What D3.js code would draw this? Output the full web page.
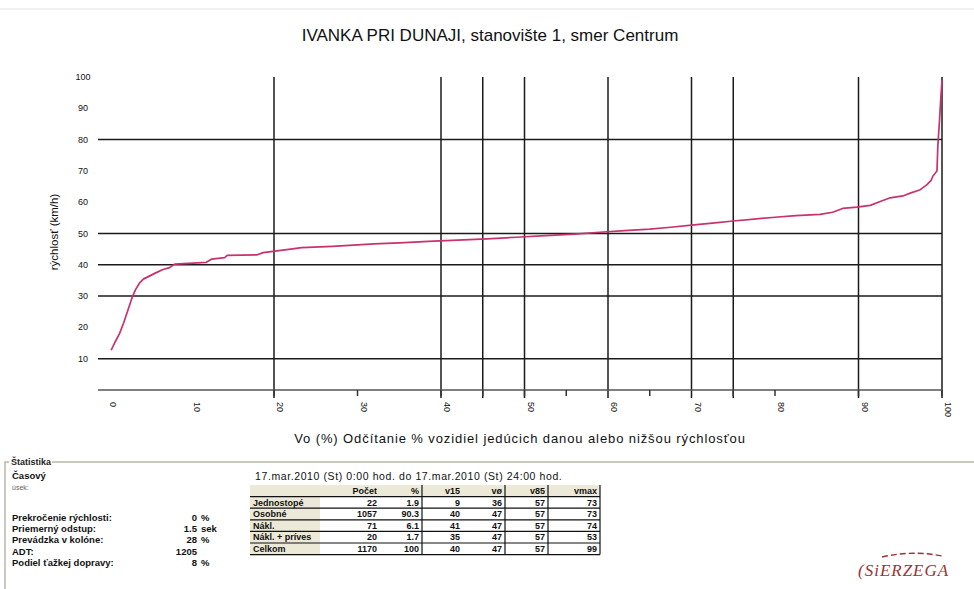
<!DOCTYPE html>
<html>
<head>
<meta charset="utf-8">
<script src="https://cdn.jsdelivr.net/npm/d3@7"></script>
<style>
  html, body { margin: 0; padding: 0; background: #fff; }
  svg { display: block; font-family: "Liberation Sans", Arial, sans-serif; }
</style>
</head>
<body>
<svg id="chart" width="974" height="589"></svg>
<script>
// Cumulative speed distribution: share of vehicles (%) vs. speed (km/h)
const percentVehicles = [0.5, 1.0, 1.5, 2.0, 2.5, 3.0, 3.4, 3.9, 4.4, 5.0, 5.9, 6.7, 7.5, 8.1, 11.9, 12.5, 14.1, 14.4, 18.0, 18.7, 22.0, 23.3, 27.0, 29.5, 32.0, 35.0, 38.5, 42.0, 45.5, 49.0, 52.5, 56.0, 59.0, 62.0, 65.0, 67.5, 70.0, 72.5, 75.0, 77.5, 80.0, 82.5, 85.4, 86.9, 88.1, 89.8, 91.4, 92.6, 93.8, 95.3, 96.2, 97.4, 98.2, 98.7, 98.9, 99.2, 99.4, 99.5, 99.7, 99.85, 100];
const speedKmh = [12.7, 15.5, 18.0, 21.5, 25.5, 29.5, 32.0, 34.2, 35.5, 36.3, 37.5, 38.5, 39.1, 40.2, 40.8, 41.8, 42.3, 43.0, 43.2, 43.9, 45.0, 45.5, 45.9, 46.3, 46.7, 47.0, 47.5, 47.9, 48.3, 48.8, 49.3, 49.8, 50.4, 50.9, 51.4, 52.0, 52.7, 53.3, 54.0, 54.6, 55.2, 55.7, 56.1, 56.8, 58.0, 58.4, 59.0, 60.2, 61.4, 62.0, 62.9, 64.0, 65.6, 67.0, 68.3, 69.3, 70.0, 78.0, 86.0, 93.0, 99.0];

// Axis ticks and grid positions
const yTickLabels = [10, 20, 30, 40, 50, 60, 70, 80, 90, 100];
const xTickLabels = [0, 10, 20, 30, 40, 50, 60, 70, 80, 90, 100];
const xTickMarks = [20, 30, 40, 45, 50, 55, 65, 75, 80, 90, 100];
const hGridValues = [10, 30, 40, 50, 80];
const vGridValues = [20, 40, 45, 50, 60, 70, 75, 90, 100];

// Statistics panel
const statLabels = ["Prekročenie rýchlosti:", "Priemerný odstup:", "Prevádzka v kolóne:", "ADT:", "Podiel ťažkej dopravy:"];
const statValues = ["0", "1.5", "28", "1205", "8"];
const statUnits = ["%", "sek", "%", "", "%"];

// Vehicle class table
const tableHeaders = ["", "Počet", "%", "v15", "vø", "v85", "vmax"];
const vehicleClasses = ["Jednostopé", "Osobné", "Nákl.", "Nákl. + príves", "Celkom"];
const classCount = [22, 1057, 71, 20, 1170];
const classPercent = ["1.9", "90.3", "6.1", "1.7", "100"];
const classV15 = [9, 40, 41, 35, 40];
const classVavg = [36, 47, 47, 47, 47];
const classV85 = [57, 57, 57, 57, 57];
const classVmax = [73, 73, 74, 53, 99];

const svg = d3.select("#chart");
const W = 974;

const x = d3.scaleLinear().domain([0, 100]).range([107, 942]);
const y = d3.scaleLinear().domain([0, 100]).range([390, 77]);

// faint rule at the very top
svg.append("line").attr("x1", 0).attr("x2", W).attr("y1", 9).attr("y2", 9)
  .attr("stroke", "#e2e2e2").attr("stroke-width", 1);

// title
svg.append("text").attr("x", 490).attr("y", 41).attr("text-anchor", "middle")
  .attr("font-size", 17).attr("fill", "#111")
  .text("IVANKA PRI DUNAJI, stanovište 1, smer Centrum");

// horizontal grid
svg.append("g").selectAll("line").data(hGridValues).join("line")
  .attr("x1", x(0) - 9).attr("x2", x(100))
  .attr("y1", d => y(d)).attr("y2", d => y(d))
  .attr("stroke", "#1b1b1b").attr("stroke-width", 1.5);

// vertical grid
svg.append("g").selectAll("line").data(vGridValues).join("line")
  .attr("x1", d => x(d)).attr("x2", d => x(d))
  .attr("y1", y(100)).attr("y2", 398)
  .attr("stroke", "#1b1b1b").attr("stroke-width", 1.5);

// x axis line with tick marks
svg.append("line").attr("x1", x(0) - 9).attr("x2", x(100))
  .attr("y1", y(0)).attr("y2", y(0)).attr("stroke", "#555").attr("stroke-width", 1.5);
svg.append("g").selectAll("line").data(xTickMarks).join("line")
  .attr("x1", d => x(d)).attr("x2", d => x(d))
  .attr("y1", y(0)).attr("y2", y(0) + 6)
  .attr("stroke", "#333").attr("stroke-width", 1.5);

// y tick labels
svg.append("g").selectAll("text").data(yTickLabels).join("text")
  .attr("x", 83).attr("y", d => y(d) + 3).attr("text-anchor", "middle")
  .attr("font-size", 9).attr("fill", "#111").text(d => d);

// x tick labels (rotated)
svg.append("g").selectAll("text").data(xTickLabels).join("text")
  .attr("transform", d => `translate(${x(d) + 3},${402}) rotate(90)`)
  .attr("text-anchor", "start")
  .attr("font-size", 9).attr("fill", "#111").text(d => d);

// axis titles
svg.append("text").attr("transform", "translate(58,232) rotate(-90)")
  .attr("text-anchor", "middle").attr("font-size", 11.5).attr("fill", "#111")
  .text("rýchlosť (km/h)");
svg.append("text").attr("x", 520).attr("y", 443).attr("text-anchor", "middle")
  .attr("font-size", 13).attr("letter-spacing", 0.9).attr("fill", "#111")
  .text("Vo (%) Odčítanie % vozidiel jedúcich danou alebo nižšou rýchlosťou");

// speed curve
const pts = percentVehicles.map((p, i) => [p, speedKmh[i]]);
svg.append("path").datum(pts)
  .attr("d", d3.line().x(d => x(d[0])).y(d => y(d[1])).curve(d3.curveLinear))
  .attr("fill", "none").attr("stroke", "#c8326f").attr("stroke-width", 1.7)
  .attr("stroke-linejoin", "round");

// statistics group box
const boxTop = 462;
svg.append("path")
  .attr("d", `M5,589 L5,${boxTop} L9,${boxTop} M52,${boxTop} L${W},${boxTop}`)
  .attr("fill", "none").attr("stroke", "#b9b8a8").attr("stroke-width", 1.5);
svg.append("text").attr("x", 11).attr("y", boxTop + 3).attr("font-size", 9)
  .attr("font-weight", "bold").attr("fill", "#222").text("Štatistika");
svg.append("text").attr("x", 12).attr("y", 479).attr("font-size", 9.5)
  .attr("font-weight", "bold").attr("fill", "#111").text("Časový");
svg.append("text").attr("x", 12).attr("y", 490).attr("font-size", 7)
  .attr("fill", "#666").text("úsek:");
svg.append("text").attr("x", 255).attr("y", 480).attr("font-size", 10.5)
  .attr("letter-spacing", 0.6).attr("fill", "#111")
  .text("17.mar.2010 (St) 0:00 hod. do 17.mar.2010 (St) 24:00 hod.");

const statG = svg.append("g");
statLabels.forEach((lab, i) => {
  const yy = 521 + i * 11.2;
  statG.append("text").attr("x", 12).attr("y", yy).attr("font-size", 9.5)
    .attr("font-weight", "bold").attr("fill", "#111").text(lab);
  statG.append("text").attr("x", 197).attr("y", yy).attr("font-size", 9.5)
    .attr("font-weight", "bold").attr("text-anchor", "end").attr("fill", "#111").text(statValues[i]);
  statG.append("text").attr("x", 201).attr("y", yy).attr("font-size", 9.5)
    .attr("font-weight", "bold").attr("fill", "#111").text(statUnits[i]);
});

// table
const colEdges = [250, 320, 380, 422, 463, 505, 548, 600];
const rowTop = 485, rowH = 11.6;
const rows = vehicleClasses.map((c, i) => [c, classCount[i], classPercent[i], classV15[i], classVavg[i], classV85[i], classVmax[i]]);
const tbl = svg.append("g").attr("font-size", 9).attr("font-weight", "bold");
// header background and label column background
tbl.append("rect").attr("x", colEdges[0]).attr("y", rowTop)
  .attr("width", colEdges[7] - colEdges[0]).attr("height", rowH).attr("fill", "#ece9d8");
tbl.append("rect").attr("x", colEdges[0]).attr("y", rowTop)
  .attr("width", colEdges[1] - colEdges[0]).attr("height", rowH * 6).attr("fill", "#ece9d8");
// header texts
tableHeaders.forEach((h, j) => {
  if (!h) return;
  tbl.append("text").attr("x", colEdges[j + 1] - 3).attr("y", rowTop + 9)
    .attr("text-anchor", "end").attr("fill", "#111").text(h);
});
// body rows
rows.forEach((r, i) => {
  const top = rowTop + rowH * (i + 1);
  r.forEach((v, j) => {
    tbl.append("text")
      .attr("x", j === 0 ? colEdges[0] + 3 : colEdges[j + 1] - 3)
      .attr("y", top + 9)
      .attr("text-anchor", j === 0 ? "start" : "end")
      .attr("fill", "#111").text(v);
  });
});
// row rules
d3.range(1, 7).forEach(i => {
  tbl.append("line").attr("x1", colEdges[0]).attr("x2", colEdges[7])
    .attr("y1", rowTop + rowH * i).attr("y2", rowTop + rowH * i)
    .attr("stroke", "#111").attr("stroke-width", 1.2);
});
// column rules
[3, 5, 6, 7].forEach(k => {
  tbl.append("line").attr("x1", colEdges[k]).attr("x2", colEdges[k])
    .attr("y1", rowTop).attr("y2", rowTop + rowH * 6)
    .attr("stroke", "#111").attr("stroke-width", 1.2);
});

// company mark
const logo = svg.append("g").attr("fill", "#9a3434");
logo.append("path").attr("d", "M882,557 Q912,550 942,556")
  .attr("fill", "none").attr("stroke", "#9a3434").attr("stroke-width", 1.4)
  .attr("stroke-dasharray", "6,3");
logo.append("text").attr("x", 858).attr("y", 576).attr("font-size", 17)
  .attr("font-style", "italic").attr("letter-spacing", 1).attr("font-family", "Liberation Serif, serif")
  .text("(SiERZEGA");
</script>
</body>
</html>
